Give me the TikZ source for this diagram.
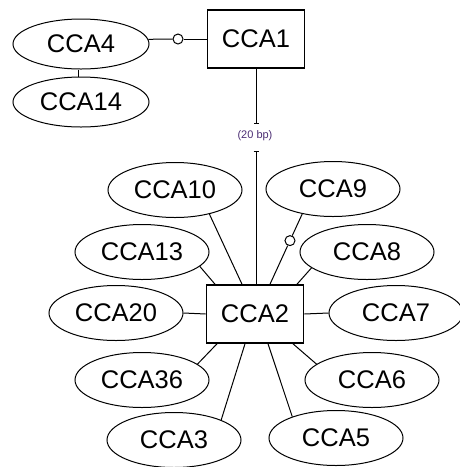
\documentclass[tikz,border=0pt]{standalone}
\usepackage{fontspec}
\setmainfont{Liberation Sans}
\usetikzlibrary{shapes.geometric,arrows.meta,calc}
\definecolor{bpcol}{RGB}{75,45,115}
\begin{document}
\begin{tikzpicture}[x=1pt,y=-1pt,
  lbl/.style={font=\fontsize{25.5}{25.5}\selectfont},
  ellA/.style={ellipse,draw,line width=1pt,minimum width=136pt,minimum height=50pt,inner sep=0pt,lbl},
  ellB/.style={ellipse,draw,line width=1pt,minimum width=134pt,minimum height=55pt,inner sep=0pt,lbl},
  box/.style={rectangle,draw,line width=1.6pt,minimum width=97pt,minimum height=58pt,inner sep=0pt,lbl},
  conn/.style={line width=1pt},
  knob/.style={circle,draw,fill=white,line width=1pt,minimum size=10pt,inner sep=0pt}]
\useasboundingbox (0,0) rectangle (460,467);
% top group
\node[box] (cca1) at (256,39) {CCA1};
\node[ellA] (cca4) at (81,44) {CCA4};
\node[ellA] (cca14) at (81,102) {CCA14};
\node[knob] (k1) at (178,39) {};
\draw[conn] (cca4.4) -- (k1);
\draw[conn] (k1) -- (cca1.west);
\draw[conn] ([xshift=-3pt]cca4.south) -- ([xshift=-3pt]cca14.north);
% central box
\node[box] (cca2) at (255,314) {CCA2};
% link with label
\node[font=\fontsize{11}{11}\selectfont, text=bpcol, inner sep=0pt] (bp) at (255,136) {(20 bp)};
\coordinate (t1) at (256,124);
\coordinate (t2) at (256,151);
\draw[conn,-{Bar[width=5pt,line width=1pt]}] (cca1.south) -- (t1);
\draw[conn,{Bar[width=5pt,line width=1pt]}-] (t2) -- (t2 |- cca2.north);
% satellites
\node[ellB] (cca10) at (175,190) {CCA10};
\node[ellB] (cca9) at (333,189) {CCA9};
\node[ellB] (cca13) at (142,252) {CCA13};
\node[ellB] (cca8) at (367,252) {CCA8};
\node[ellB] (cca20) at (116,313) {CCA20};
\node[ellB] (cca7) at (396,313) {CCA7};
\node[ellB] (cca36) at (142,380) {CCA36};
\node[ellB] (cca6) at (372,380) {CCA6};
\node[ellB] (cca3) at (174,440) {CCA3};
\node[ellB] (cca5) at (336,438) {CCA5};
% attachment points on CCA2
\coordinate (p10) at ([xshift=-13pt]cca2.north);
\coordinate (p13) at ([xshift=-40pt]cca2.north);
\coordinate (p9) at ([xshift=15pt]cca2.north);
\coordinate (p8) at ([xshift=42pt]cca2.north);
\coordinate (p36) at ([xshift=-38pt]cca2.south);
\coordinate (p3) at ([xshift=-10pt]cca2.south);
\coordinate (p5) at ([xshift=13pt]cca2.south);
\coordinate (p6) at ([xshift=38pt]cca2.south);
\draw[conn] (cca10.-35) -- (p10);
\draw[conn] (cca13.-14) -- (p13);
\draw[conn] (cca20.east) -- (cca2.west);
\draw[conn] (cca36.16) -- (p36);
\draw[conn] (cca3.23) -- (p3);
\draw[conn] (cca5.154) -- (p5);
\draw[conn] (cca6.164) -- (p6);
\draw[conn] (cca7.west) -- (cca2.east);
\draw[conn] (cca8.196) -- (p8);
\node[knob] (k9) at ($(cca9.-141)!0.38!(p9)$) {};
\draw[conn] (cca9.-141) -- (k9);
\draw[conn] (k9) -- (p9);
\end{tikzpicture}
\end{document}
